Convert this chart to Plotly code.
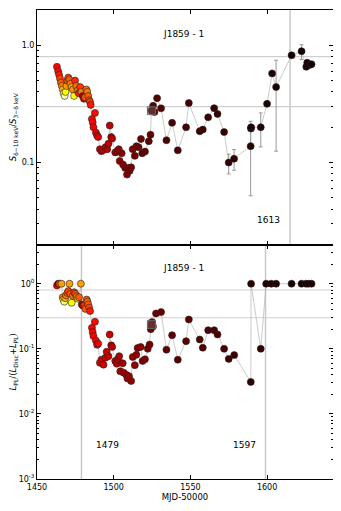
import numpy as np
import plotly.graph_objects as go
from plotly.subplots import make_subplots

# ---- top panel: hardness S(6-10 keV)/S(3-6 keV) ----
top_mjd = [1463.0, 1463.8, 1464.4, 1465.0, 1465.6, 1466.2, 1466.8, 1467.4, 1468.0, 1468.6,
           1469.2, 1469.8, 1470.4, 1471.0, 1471.8, 1472.6, 1473.4, 1474.2, 1474.8, 1475.6,
           1476.4, 1477.2, 1478.2, 1479.0, 1479.8, 1480.6, 1481.4, 1482.2, 1482.8, 1483.4,
           1484.0, 1484.6, 1485.0, 1485.8, 1486.3, 1486.8, 1487.8, 1488.4, 1489.2, 1489.9,
           1491.0, 1492.0, 1493.2, 1494.6, 1495.8, 1496.6, 1497.4, 1498.4, 1499.0, 1501.0,
           1502.4, 1503.3, 1503.9, 1505.2, 1506.1, 1507.5, 1508.7, 1509.6, 1510.4, 1511.4,
           1512.4, 1513.8, 1514.8, 1516.2, 1517.8, 1518.6, 1520.4, 1522.9, 1524.0, 1524.6,
           1525.7, 1526.6, 1528.3, 1530.9, 1534.4, 1538.1, 1541.8, 1547.2, 1549.0, 1556.1,
           1558.1, 1561.6, 1565.5, 1567.7, 1572.0, 1575.0, 1578.5, 1589.3, 1589.5, 1589.6,
           1595.9, 1600.0, 1603.3, 1605.9, 1616.0, 1622.5, 1625.6, 1626.2, 1627.6, 1629.0]
top_val = [0.656, 0.600, 0.560, 0.520, 0.480, 0.450, 0.420, 0.390, 0.370, 0.400,
           0.450, 0.500, 0.530, 0.510, 0.470, 0.440, 0.420, 0.370, 0.500, 0.450,
           0.410, 0.390, 0.440, 0.400, 0.370, 0.350, 0.360, 0.420, 0.400, 0.370,
           0.340, 0.330, 0.310, 0.235, 0.220, 0.200, 0.265, 0.180, 0.170, 0.165,
           0.130, 0.125, 0.128, 0.135, 0.130, 0.145, 0.207, 0.165, 0.160, 0.122,
           0.125, 0.130, 0.103, 0.120, 0.096, 0.090, 0.079, 0.090, 0.085, 0.091,
           0.130, 0.114, 0.138, 0.135, 0.159, 0.120, 0.124, 0.152, 0.173, 0.277,
           0.305, 0.270, 0.354, 0.290, 0.155, 0.218, 0.127, 0.200, 0.322, 0.185,
           0.191, 0.243, 0.291, 0.260, 0.182, 0.100, 0.108, 0.138, 0.195, 0.200,
           0.200, 0.317, 0.576, 0.440, 0.823, 0.890, 0.656, 0.710, 0.680, 0.690]
top_hi = [v * 1.03 for v in top_val]
top_lo = [v * 0.97 for v in top_val]
# visible error bars on the late, faint observations
late_err = {85: (0.118, 0.080), 86: (0.129, 0.086), 87: (0.225, 0.052),
            90: (0.265, 0.136), 93: (0.746, 0.125), 95: (1.01, 0.757)}
for i, (hi, lo) in late_err.items():
    top_hi[i] = hi
    top_lo[i] = lo
top_col = [0.37, 0.38, 0.40, 0.45, 0.50, 0.55, 0.62, 0.88, 0.92, 0.74,
           0.60, 0.50, 0.45, 0.50, 0.55, 0.62, 0.58, 0.75, 0.42, 0.52,
           0.55, 0.40, 0.45, 0.55, 0.25, 0.30, 0.50, 0.52, 0.55, 0.50,
           0.48, 0.45, 0.40, 0.37, 0.37, 0.36, 0.38, 0.34, 0.33, 0.32,
           0.29, 0.28, 0.27, 0.27, 0.26, 0.26, 0.27, 0.25, 0.25, 0.22,
           0.22, 0.21, 0.21, 0.20, 0.20, 0.19, 0.19, 0.18, 0.18, 0.17,
           0.17, 0.16, 0.16, 0.15, 0.15, 0.14, 0.14, 0.13, 0.13, 0.12,
           0.12, 0.12, 0.11, 0.11, 0.10, 0.10, 0.10, 0.09, 0.09, 0.08,
           0.08, 0.08, 0.07, 0.07, 0.07, 0.06, 0.06, 0.04, 0.04, 0.04,
           0.04, 0.03, 0.03, 0.03, 0.02, 0.02, 0.02, 0.02, 0.02, 0.02]

# ---- bottom panel: power-law fraction L_PL/(L_Disc+L_PL) ----
bot_mjd = [1463.0, 1463.8, 1464.6, 1466.0, 1466.8, 1467.2, 1467.8, 1468.4, 1469.0, 1469.8,
           1470.4, 1471.2, 1471.8, 1472.6, 1473.4, 1474.2, 1475.0, 1475.8, 1476.6, 1477.4,
           1478.6, 1479.2, 1480.0, 1480.8, 1481.6, 1482.4, 1482.9, 1483.4, 1484.0, 1484.6,
           1485.8, 1486.3, 1486.8, 1487.8, 1488.4, 1489.2, 1489.9, 1491.0, 1492.0, 1493.4,
           1494.6, 1495.4, 1496.6, 1497.4, 1498.4, 1499.0, 1501.0, 1502.0, 1502.8, 1503.6,
           1504.3, 1505.9, 1506.5, 1508.2, 1509.0, 1510.0, 1511.4, 1512.4, 1513.8, 1514.8,
           1515.6, 1517.6, 1518.8, 1520.4, 1522.2, 1523.4, 1524.2, 1524.6, 1525.0, 1525.6,
           1527.6, 1530.9, 1534.4, 1538.1, 1541.8, 1547.2, 1549.0, 1556.1, 1558.1, 1561.6,
           1565.5, 1567.7, 1572.0, 1575.0, 1578.6, 1589.4, 1589.6, 1595.9, 1599.4, 1602.7,
           1605.9, 1616.0, 1622.5, 1625.4, 1627.0, 1629.0]
bot_val = [0.94, 1.0, 1.0, 1.0, 0.62, 0.57, 0.53, 0.60, 0.66, 0.72,
           0.77, 1.0, 0.70, 0.51, 0.65, 0.74, 0.70, 0.64, 0.59, 0.62,
           1.0, 0.48, 0.46, 0.47, 0.41, 0.57, 0.53, 0.48, 0.43, 0.38,
           0.21, 0.18, 0.157, 0.26, 0.134, 0.115, 0.12, 0.061, 0.068, 0.057,
           0.073, 0.090, 0.077, 0.166, 0.113, 0.107, 0.065, 0.059, 0.069, 0.077,
           0.045, 0.060, 0.043, 0.040, 0.035, 0.038, 0.032, 0.075, 0.056, 0.081,
           0.103, 0.107, 0.065, 0.069, 0.100, 0.116, 0.200, 0.237, 0.257, 0.220,
           0.349, 0.366, 0.097, 0.162, 0.068, 0.131, 0.282, 0.139, 0.104, 0.193,
           0.193, 0.166, 0.100, 0.070, 0.080, 0.031, 1.0, 0.100, 1.0, 1.0,
           1.0, 1.0, 1.0, 1.0, 1.0, 1.0]
bot_col = [0.37, 0.22, 0.45, 0.60, 0.55, 0.72, 0.85, 0.62, 0.55, 0.50,
           0.46, 0.60, 0.50, 0.74, 0.52, 0.44, 0.48, 0.52, 0.66, 0.50,
           0.60, 0.25, 0.30, 0.42, 0.50, 0.50, 0.52, 0.50, 0.46, 0.40,
           0.37, 0.37, 0.36, 0.38, 0.35, 0.34, 0.34, 0.31, 0.30, 0.30,
           0.29, 0.29, 0.28, 0.29, 0.27, 0.27, 0.26, 0.25, 0.25, 0.24,
           0.24, 0.23, 0.23, 0.22, 0.22, 0.22, 0.21, 0.21, 0.20, 0.20,
           0.19, 0.19, 0.18, 0.18, 0.17, 0.17, 0.16, 0.16, 0.16, 0.15,
           0.15, 0.14, 0.13, 0.13, 0.12, 0.12, 0.12, 0.11, 0.11, 0.10,
           0.10, 0.10, 0.09, 0.08, 0.08, 0.05, 0.05, 0.05, 0.04, 0.04,
           0.04, 0.03, 0.03, 0.03, 0.03, 0.03]

square_mjd = 1524.6
square_top = 0.277
square_bot = 0.237

# matplotlib 'hot'
hot = [[0.0, "#0a0000"], [0.365, "#ff0000"], [0.746, "#ffff00"], [1.0, "#ffffff"]]

FONT = "DejaVu Sans"
fig = make_subplots(rows=2, cols=1, shared_xaxes=True, vertical_spacing=0)

for row, mjd, val in [(1, top_mjd, top_val), (2, bot_mjd, bot_val)]:
    fig.add_trace(go.Scatter(x=mjd, y=val, mode="lines",
                             line=dict(color="#b4b4b4", width=0.7),
                             hoverinfo="skip", showlegend=False), row=row, col=1)

fig.add_trace(go.Scatter(
    x=top_mjd, y=top_val, mode="markers", showlegend=False,
    error_y=dict(type="data", symmetric=False,
                 array=[h - v for h, v in zip(top_hi, top_val)],
                 arrayminus=[v - l for l, v in zip(top_lo, top_val)],
                 color="#999999", thickness=1, width=2),
    marker=dict(size=7, color=top_col, colorscale=hot, cmin=0, cmax=1,
                line=dict(color="#222222", width=0.6))), row=1, col=1)
fig.add_trace(go.Scatter(
    x=bot_mjd, y=bot_val, mode="markers", showlegend=False,
    marker=dict(size=7, color=bot_col, colorscale=hot, cmin=0, cmax=1,
                line=dict(color="#222222", width=0.6))), row=2, col=1)

for row, sy in [(1, square_top), (2, square_bot)]:
    fig.add_trace(go.Scatter(x=[square_mjd], y=[sy], mode="markers", showlegend=False,
                             marker=dict(symbol="square", size=8, color="rgba(120,120,120,0.35)",
                                         line=dict(color="#666666", width=1))), row=row, col=1)

# reference lines
for row in (1, 2):
    for yv in (0.8, 0.3):
        fig.add_hline(y=yv, line=dict(color="#d0d0d0", width=1.2), layer="below", row=row, col=1)
fig.add_vline(x=1615, line=dict(color="#c8c8c8", width=1.5), layer="below", row=1, col=1)
fig.add_vline(x=1479, line=dict(color="#c8c8c8", width=1.5), layer="below", row=2, col=1)
fig.add_vline(x=1599, line=dict(color="#c8c8c8", width=1.5), layer="below", row=2, col=1)

ann_font = dict(family=FONT, size=9, color="black")
notes = [("x", "y", 1545.6, np.log10(1.26), "J1859 - 1"),
         ("x2", "y2", 1545.6, np.log10(1.76), "J1859 - 1"),
         ("x", "y", 1600.7, np.log10(0.0325), "1613"),
         ("x2", "y2", 1496.0, np.log10(0.0033), "1479"),
         ("x2", "y2", 1585.5, np.log10(0.0033), "1597")]
for xr, yr, x, y, t in notes:
    fig.add_annotation(x=x, y=y, xref=xr, yref=yr, text=t, showarrow=False, font=ann_font)

tick_font = dict(family=FONT, size=8, color="black")
axis_common = dict(showline=True, linecolor="black", linewidth=1, mirror="ticks",
                   ticks="inside", ticklen=4, tickcolor="black", showgrid=False,
                   zeroline=False, tickfont=tick_font, automargin=False)

fig.update_xaxes(range=[1450, 1643], tickvals=[1450, 1500, 1550, 1600], **axis_common)
fig.update_xaxes(title=dict(text="MJD-50000", font=dict(family=FONT, size=8.5), standoff=2),
                 row=2, col=1)

top_minor = [k * 10.0 ** e for e in (-2, -1) for k in range(2, 10)] + [2.0]
bot_minor = [k * 10.0 ** e for e in (-3, -2, -1, 0) for k in range(2, 10) if k * 10.0 ** e < 4]
fig.update_yaxes(type="log", range=[np.log10(0.02), np.log10(2.0)],
                 tickvals=[0.1, 1.0], ticktext=["0.1", "1.0"],
                 minor=dict(tickvals=top_minor, ticks="inside", ticklen=2, tickcolor="black"),
                 title=dict(text="<i>S</i><sub>6−10 keV</sub>/<i>S</i><sub>3−6 keV</sub>",
                            font=dict(family=FONT, size=8.5), standoff=4),
                 row=1, col=1, **axis_common)
fig.update_yaxes(type="log", range=[-3, np.log10(4.0)],
                 tickvals=[0.001, 0.01, 0.1, 1.0],
                 ticktext=["10<sup>-3</sup>", "10<sup>-2</sup>", "10<sup>-1</sup>", "10<sup>0</sup>"],
                 minor=dict(tickvals=bot_minor, ticks="inside", ticklen=2, tickcolor="black"),
                 title=dict(text="<i>L</i><sub>PL</sub>/(<i>L</i><sub>Disc</sub>+<i>L</i><sub>PL</sub>)",
                            font=dict(family=FONT, size=8.5), standoff=2),
                 row=2, col=1, **axis_common)

# the page body adds an 8 px margin, so the figure is 8 px smaller each way
fig.update_layout(width=333, height=503, margin=dict(l=29, r=8, t=2, b=32),
                  plot_bgcolor="white", paper_bgcolor="white",
                  font=dict(family=FONT, color="black"))
fig.write_html("out.html")
